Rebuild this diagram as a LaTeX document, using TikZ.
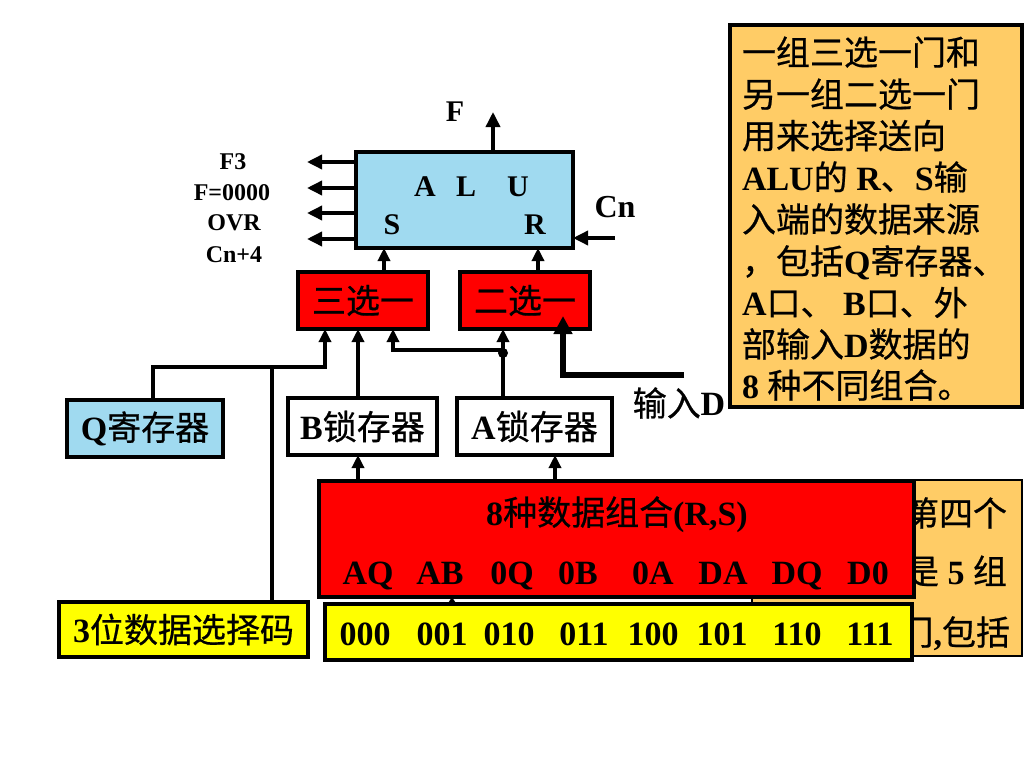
\documentclass[tikz,border=0pt]{standalone}
\usepackage{fontspec}
\setmainfont{Liberation Serif}
\newfontfamily\cjk[FakeBold=0.6]{Noto Sans CJK SC}
\usetikzlibrary{arrows.meta}
\newcommand\zh[1]{{\mdseries\cjk #1}}
\definecolor{alublue}{RGB}{160,218,240}
\definecolor{boxred}{RGB}{255,0,0}
\definecolor{boxyel}{RGB}{255,255,0}
\definecolor{boxorg}{RGB}{255,204,102}
\begin{document}
\begin{tikzpicture}[x=1pt,y=-1pt,
  every node/.style={font=\bfseries\fontsize{34}{40}\selectfont, inner sep=0pt, outer sep=0pt},
  blk/.style={draw=black, line width=3.5pt},
  conn/.style={line width=3.5pt},
  arr/.style={line width=3.5pt, -{Triangle[length=15pt,width=14pt]}},
  sarr/.style={line width=3.5pt, -{Triangle[length=13pt,width=12pt]}},
  tinyarr/.style={line width=1.5pt, -{Triangle[length=5pt,width=6pt]}},
  thickarr/.style={line width=6pt, -{Triangle[length=18pt,width=18pt]}},
  small/.style={font=\bfseries\fontsize{24}{28}\selectfont},
  mid/.style={font=\bfseries\fontsize{30}{34}\selectfont},
  dotnode/.style={circle, fill=black, minimum size=10pt},
  line/.style={anchor=base west}
]
\fill[white] (0,0) rectangle (1024,768);
\useasboundingbox (0,0) rectangle (1024,768);

% ---- note box (top right)
\node[blk, fill=boxorg, minimum width=292pt, minimum height=382pt] (note) at (876,216) {};
\node[line] (n1) at (742,65) {\zh{一组三选一门和}};
\node[line] (n2) at (742,107) {\zh{另一组二选一门}};
\node[line] (n3) at (742,148.5) {\zh{用来选择送向}};
\node[line] (n4) at (742,190) {ALU\zh{的} R\zh{、}S\zh{输}};
\node[line] (n5) at (742,232) {\zh{入端的数据来源}};
\node[line] (n6) at (742,274) {\zh{，包括}Q\zh{寄存器、}};
\node[line] (n7) at (742,315.5) {A\zh{口、} B\zh{口、外}};
\node[line] (n8) at (742,357) {\zh{部输入}D\zh{数据的}};
\node[line] (n9) at (742,398) {8 \zh{种不同组合。}};

% ---- second note box (mostly hidden)
\node[blk, line width=2pt, fill=boxorg, minimum width=270pt, minimum height=176pt] (note2) at (887,568) {};
\node[anchor=base east] (m1) at (1007,526) {\zh{第四个}};
\node[anchor=base east] (m2t) at (1007,584) {\zh{是} 5 \zh{组}};
\node[anchor=base east] (m3t) at (1010,645) {\zh{门},\zh{包括}};

% ---- ALU
\node[blk, fill=alublue, minimum width=217pt, minimum height=96pt] (alu) at (464.5,200) {};
\node[mid] (la) at (425,187) {A};
\node[mid] (ll) at (466,187) {L};
\node[mid] (lu) at (518,187) {U};
\node[mid] (ls) at (392,225) {S};
\node[mid] (lr) at (535,225) {R};
\node[mid] (flbl) at (455,112) {F};
\node[font=\bfseries\fontsize{32}{36}\selectfont] (cnlbl) at (615,207) {Cn};

\node[small] (f3) at (233,162) {F3};
\node[small] (fz) at (232,193) {F=0000};
\node[small] (ovr) at (234,223) {OVR};
\node[small] (cn4) at (234,255) {Cn+4};

% ---- muxes
\node[blk, fill=boxred, minimum width=130pt, minimum height=57pt] (mux3) at (363,300.5) {\zh{三选一}};
\node[blk, fill=boxred, minimum width=130pt, minimum height=57pt] (mux2) at (525,300.5) {\zh{二选一}};

% ---- registers
\node[blk, fill=alublue, minimum width=156pt, minimum height=57pt] (qreg) at (145,428.5) {Q\zh{寄存器}};
\node[blk, fill=white, minimum width=149pt, minimum height=57pt] (blat) at (362.5,426.5) {B\zh{锁存器}};
\node[blk, fill=white, minimum width=155pt, minimum height=57pt] (alat) at (534.5,426.5) {A\zh{锁存器}};
\node (ind) at (679,403) {\zh{输入}D};

% ---- selection code box
\node[blk, fill=boxyel, minimum width=249pt, minimum height=55pt] (sel) at (183.5,629.5) {3\zh{位数据选择码}};

% ---- combinations
\node[blk, fill=boxred, minimum width=595pt, minimum height=116pt] (comb) at (616.5,539) {};
\node[anchor=base] (combt) at (617,525) {8\zh{种数据组合}(R,S)};
\node[anchor=base] (c1) at (368,584) {AQ};
\node[anchor=base] (c2) at (440,584) {AB};
\node[anchor=base] (c3) at (512,584) {0Q};
\node[anchor=base] (c4) at (578,584) {0B};
\node[anchor=base] (c5) at (653,584) {0A};
\node[anchor=base] (c6) at (723,584) {DA};
\node[anchor=base] (c7) at (797,584) {DQ};
\node[anchor=base] (c8) at (868,584) {D0};

\node[blk, fill=boxyel, minimum width=587pt, minimum height=56pt] (codes) at (618.5,632) {};
\node[anchor=base] (d1) at (365,645) {000};
\node[anchor=base] (d2) at (442,645) {001};
\node[anchor=base] (d3) at (509,645) {010};
\node[anchor=base] (d4) at (584,645) {011};
\node[anchor=base] (d5) at (653,645) {100};
\node[anchor=base] (d6) at (722,645) {101};
\node[anchor=base] (d7) at (797,645) {110};
\node[anchor=base] (d8) at (870,645) {111};

% ---- connectors
\coordinate (fend) at (493,112);
\draw[arr] (fend |- alu.north) -- (fend);
\coordinate (o1) at (307,162);
\coordinate (o2) at (307,188);
\coordinate (o3) at (307,213);
\coordinate (o4) at (307,239);
\draw[arr] (o1 -| alu.west) -- (o1);
\draw[arr] (o2 -| alu.west) -- (o2);
\draw[arr] (o3 -| alu.west) -- (o3);
\draw[arr] (o4 -| alu.west) -- (o4);
\coordinate (cnin) at (615,238);
\draw[arr] (cnin) -- (cnin -| alu.east);

\coordinate (s3) at (384,272);
\coordinate (s2) at (538,272);
\draw[sarr] (s3 |- mux3.north) -- (s3 |- alu.south);
\draw[sarr] (s2 |- mux2.north) -- (s2 |- alu.south);

% Q register path
\coordinate (qc) at (153,367);
\coordinate (qm) at (325,367);
\draw[sarr] (qc |- qreg.north) -- (qc) -- (qm) -- (qm |- mux3.south);
% selection code line
\coordinate (sj) at (272,367);
\draw[conn] (sj |- sel.north) -- (sj);
% B latch to mux3
\coordinate (bx) at (358,400);
\draw[sarr] (bx |- blat.north) -- (bx |- mux3.south);
% A latch to mux2 and branch to mux3
\coordinate (ax) at (503,350);
\coordinate (ab) at (393,350);
\draw[sarr] (ax |- alat.north) -- (ax |- mux2.south);
\draw[sarr] (ax) -- (ab) -- (ab |- mux3.south);
\node[dotnode] (dot) at (503,353) {};
% input D
\coordinate (dstart) at (684,375);
\coordinate (dc) at (563,375);
\coordinate (dtip) at (563,316);
\draw[thickarr] (dstart) -- (dc) -- (dtip);

% combinations to latches
\coordinate (cb) at (358,470);
\coordinate (ca) at (555,470);
\draw[sarr] (cb |- comb.north) -- (cb |- blat.south);
\draw[sarr] (ca |- comb.north) -- (ca |- alat.south);
% codes to combinations
\coordinate (cc) at (452,600);
\draw[tinyarr] (cc |- codes.north) -- (cc |- comb.south);
\end{tikzpicture}
\end{document}
